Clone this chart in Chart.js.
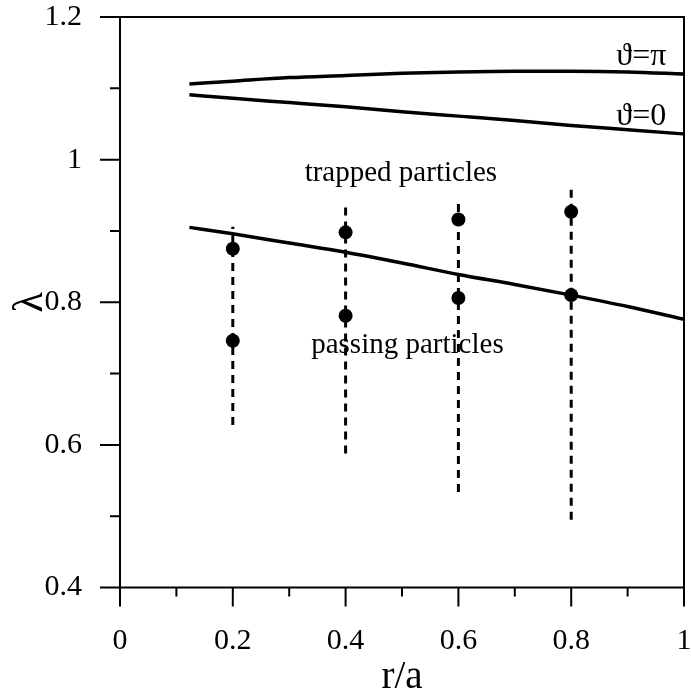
<!DOCTYPE html>
<html lang="en">
<head>
    <meta charset="UTF-8">
    <title>lambda vs r/a</title>
    <script src="https://cdn.jsdelivr.net/npm/chart.js"></script>
    <style>
        body { margin: 0; background: #fff; }
        #wrap { width: 691px; height: 689px; }
    </style>
</head>
<body>
<div id="wrap"><canvas id="lambdaChart" width="691" height="689"></canvas></div>
<script>
    // boundary curves (trapped / passing)
    const curveX = [0.123, 0.2, 0.3, 0.4, 0.5, 0.6, 0.7, 0.8, 0.9, 1.0];
    const thetaPi = [1.106, 1.110, 1.115, 1.118, 1.121, 1.123, 1.124, 1.124, 1.123, 1.120];
    const thetaZero = [1.091, 1.086, 1.080, 1.074, 1.067, 1.061, 1.055, 1.048, 1.042, 1.036];
    const separatrix = [0.905, 0.896, 0.883, 0.870, 0.855, 0.839, 0.825, 0.810, 0.794, 0.776];

    // dashed vertical ranges
    const rangeX = [0.2, 0.4, 0.6, 0.8];
    const rangeLow = [0.628, 0.588, 0.534, 0.495];
    const rangeHigh = [0.906, 0.939, 0.946, 0.958];

    // filled dots
    const dotX = [0.2, 0.2, 0.4, 0.4, 0.6, 0.6, 0.8, 0.8];
    const dotY = [0.875, 0.746, 0.898, 0.781, 0.916, 0.806, 0.927, 0.810];

    // axes
    const xTicks = [0, 0.2, 0.4, 0.6, 0.8, 1];
    const xTickLabels = ['0', '0.2', '0.4', '0.6', '0.8', '1'];
    const xMinor = [0.1, 0.3, 0.5, 0.7, 0.9];
    const yTicks = [0.4, 0.6, 0.8, 1, 1.2];
    const yTickLabels = ['0.4', '0.6', '0.8', '1', '1.2'];
    const yMinor = [0.5, 0.7, 0.9, 1.1];

    const serif = "'Liberation Serif', 'Times New Roman', 'DejaVu Serif', serif";

    const toPts = (xs, ys) => xs.map((x, i) => ({x: x, y: ys[i]}));

    const datasets = [
        {data: toPts(curveX, thetaPi), showLine: true, borderColor: '#000', borderWidth: 3.5, pointRadius: 0, cubicInterpolationMode: 'monotone'},
        {data: toPts(curveX, thetaZero), showLine: true, borderColor: '#000', borderWidth: 3.5, pointRadius: 0, cubicInterpolationMode: 'monotone'},
        {data: toPts(curveX, separatrix), showLine: true, borderColor: '#000', borderWidth: 3.5, pointRadius: 0, cubicInterpolationMode: 'monotone'}
    ];
    rangeX.forEach((x, i) => {
        datasets.push({
            data: [{x: x, y: rangeLow[i]}, {x: x, y: rangeHigh[i]}],
            showLine: true, borderColor: '#000', borderWidth: 3, borderDash: [8, 6], pointRadius: 0
        });
    });
    datasets.push({
        data: toPts(dotX, dotY), showLine: false,
        pointRadius: 7, pointBackgroundColor: '#000', pointBorderColor: '#000', pointBorderWidth: 0
    });

    // frame, outward ticks and the text labels inside the plot
    const framePlugin = {
        id: 'framePlugin',
        afterDatasetsDraw(chart) {
            const {ctx, chartArea: a, scales: {x, y}} = chart;
            ctx.save();
            ctx.strokeStyle = '#000';
            ctx.lineWidth = 2;
            ctx.strokeRect(a.left, a.top, a.right - a.left, a.bottom - a.top);
            ctx.beginPath();
            xTicks.forEach(v => { const px = x.getPixelForValue(v); ctx.moveTo(px, a.bottom); ctx.lineTo(px, a.bottom + 19); });
            xMinor.forEach(v => { const px = x.getPixelForValue(v); ctx.moveTo(px, a.bottom); ctx.lineTo(px, a.bottom + 9); });
            yTicks.forEach(v => { const py = y.getPixelForValue(v); ctx.moveTo(a.left, py); ctx.lineTo(a.left - 20, py); });
            yMinor.forEach(v => { const py = y.getPixelForValue(v); ctx.moveTo(a.left, py); ctx.lineTo(a.left - 10, py); });
            ctx.stroke();

            ctx.fillStyle = '#000';
            ctx.font = '29px ' + serif;
            ctx.textBaseline = 'alphabetic';
            ctx.textAlign = 'center';
            ctx.fillText('trapped particles', x.getPixelForValue(0.498), y.getPixelForValue(0.970));
            ctx.textAlign = 'left';
            ctx.fillText('passing particles', x.getPixelForValue(0.339), y.getPixelForValue(0.7285));
            ctx.font = '32px ' + serif;
            ctx.fillText('\u03D1=\u03C0', x.getPixelForValue(0.880), y.getPixelForValue(1.133));
            ctx.fillText('\u03D1=0', x.getPixelForValue(0.880), y.getPixelForValue(1.049));
            ctx.restore();
        }
    };

    const ctx = document.getElementById('lambdaChart').getContext('2d');
    const lambdaChart = new Chart(ctx, {
        type: 'scatter',
        data: {datasets: datasets},
        options: {
            responsive: false,
            animation: false,
            layout: {padding: {top: 17, right: 2.5, left: 0, bottom: 0}},
            plugins: {legend: {display: false}, tooltip: {enabled: false}},
            scales: {
                x: {
                    type: 'linear', min: 0, max: 1,
                    grid: {display: false},
                    border: {display: false},
                    afterBuildTicks: ax => { ax.ticks = xTicks.map(v => ({value: v})); },
                    afterFit: s => { s.height = 101.5; s.paddingLeft = 0; s.paddingRight = 0; },
                    ticks: {
                        padding: 28, color: '#000', maxRotation: 0, autoSkip: false,
                        font: {family: serif, size: 30},
                        callback: v => xTickLabels[xTicks.indexOf(v)]
                    },
                    title: {display: true, text: 'r/a', color: '#000', font: {family: serif, size: 39, lineHeight: 0.6}, padding: {top: 0, bottom: 0}}
                },
                y: {
                    type: 'linear', min: 0.4, max: 1.2,
                    grid: {display: false},
                    border: {display: false},
                    afterBuildTicks: ax => { ax.ticks = yTicks.map(v => ({value: v})); },
                    afterFit: s => { s.width = 120; s.paddingTop = 0; s.paddingBottom = 0; },
                    ticks: {
                        padding: 30, color: '#000', autoSkip: false,
                        font: {family: serif, size: 30},
                        callback: v => yTickLabels[yTicks.indexOf(v)]
                    },
                    title: {display: true, text: '\u03BB', color: '#000', font: {family: serif, size: 42}, padding: {top: 6, bottom: 0}}
                }
            }
        },
        plugins: [framePlugin]
    });
</script>
</body>
</html>
